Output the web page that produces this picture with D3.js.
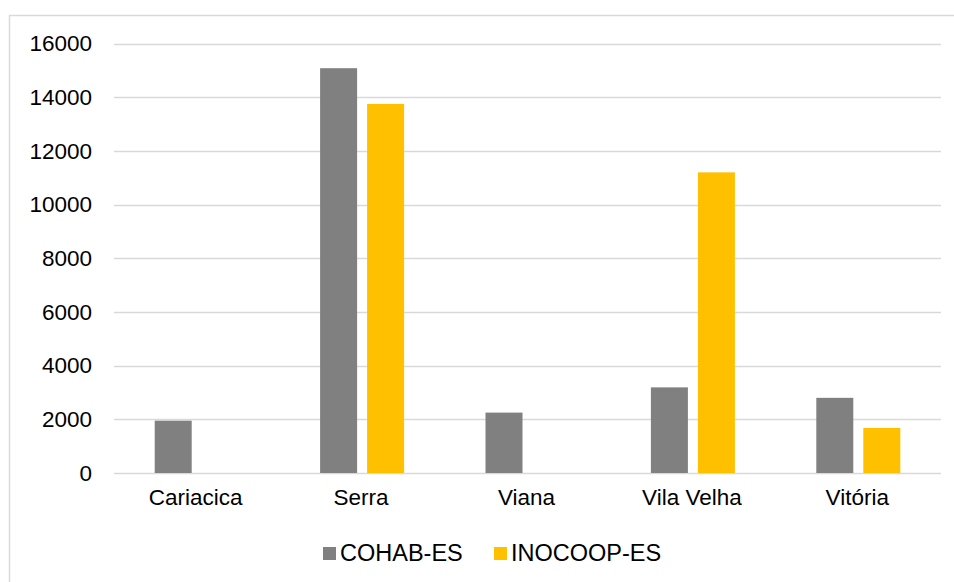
<!DOCTYPE html>
<html>
<head>
<meta charset="utf-8">
<script src="https://cdn.jsdelivr.net/npm/d3@7"></script>
<style>
  html, body { margin: 0; padding: 0; background: #fff; }
  svg { display: block; font-family: Arial, "Liberation Sans", sans-serif; }
</style>
</head>
<body>
<svg id="chart" width="954" height="582"></svg>
<script>
// Housing units by municipality and agency
const categories = ["Cariacica", "Serra", "Viana", "Vila Velha", "Vitória"];
const seriesNames = ["COHAB-ES", "INOCOOP-ES"];
const cohabValues = [1950, 15080, 2250, 3190, 2800];
const inocoopValues = [0, 13750, 0, 11200, 1680];
const yTicks = [0, 2000, 4000, 6000, 8000, 10000, 12000, 14000, 16000];
const colors = ["#808080", "#FFC000"];

const svg = d3.select("#chart");
const W = 954, H = 582;
const FONT = "Arial, 'Liberation Sans', sans-serif";

// Outer chart frame (runs past the right and bottom edges)
svg.append("rect")
  .attr("x", 9.5).attr("y", 15.5)
  .attr("width", W + 20).attr("height", H + 20)
  .attr("fill", "#fff").attr("stroke", "#D9D9D9").attr("stroke-width", 1.5);

const plot = { left: 114, right: 941, top: 43.5, bottom: 473 };

const x = d3.scaleBand().domain(categories).range([plot.left, plot.right]).padding(0);
const y = d3.scaleLinear().domain([0, 16000]).range([plot.bottom, plot.top]);

// Gridlines
svg.append("g").selectAll("line").data(yTicks).join("line")
  .attr("x1", plot.left).attr("x2", plot.right)
  .attr("y1", d => Math.round(y(d)) + 0.5).attr("y2", d => Math.round(y(d)) + 0.5)
  .attr("stroke", "#D9D9D9").attr("stroke-width", 1.5);

// Y axis labels
const yAxis = d3.axisLeft(y).tickValues(yTicks).tickSize(0).tickPadding(0).tickFormat(d3.format("d"));
const gy = svg.append("g").attr("transform", `translate(${plot.left - 22},0)`).call(yAxis);
gy.select(".domain").remove();
gy.selectAll("text").attr("font-size", 22.5).attr("fill", "#000").attr("font-family", FONT);

// X axis labels
const xAxis = d3.axisBottom(x).tickSize(0).tickPadding(0);
const gx = svg.append("g").attr("transform", `translate(-1,${plot.bottom + 16})`).call(xAxis);
gx.select(".domain").remove();
gx.selectAll("text").attr("font-size", 22.5).attr("fill", "#000").attr("font-family", FONT);

// Bars
const bw = x.bandwidth();
const barW = bw * 37 / 165.4;
const gap = bw * 10 / 165.4;
const series = [cohabValues, inocoopValues];
series.forEach((vals, si) => {
  svg.append("g").selectAll("rect").data(categories.map((c, i) => ({ c, v: vals[i] })))
    .join("rect")
    .attr("x", d => x(d.c) + bw / 2 + (si === 0 ? -gap / 2 - barW : gap / 2))
    .attr("y", d => y(d.v))
    .attr("width", barW)
    .attr("height", d => y(0) - y(d.v))
    .attr("fill", colors[si]);
});

// Legend
const legendX = [323, 494];
const legend = svg.append("g");
seriesNames.forEach((name, i) => {
  legend.append("rect")
    .attr("x", legendX[i]).attr("y", 547).attr("width", 13).attr("height", 13)
    .attr("fill", colors[i]);
  legend.append("text")
    .attr("x", legendX[i] + 17).attr("y", 561)
    .attr("font-size", 23.5).attr("fill", "#000").attr("font-family", FONT)
    .text(name);
});
</script>
</body>
</html>
